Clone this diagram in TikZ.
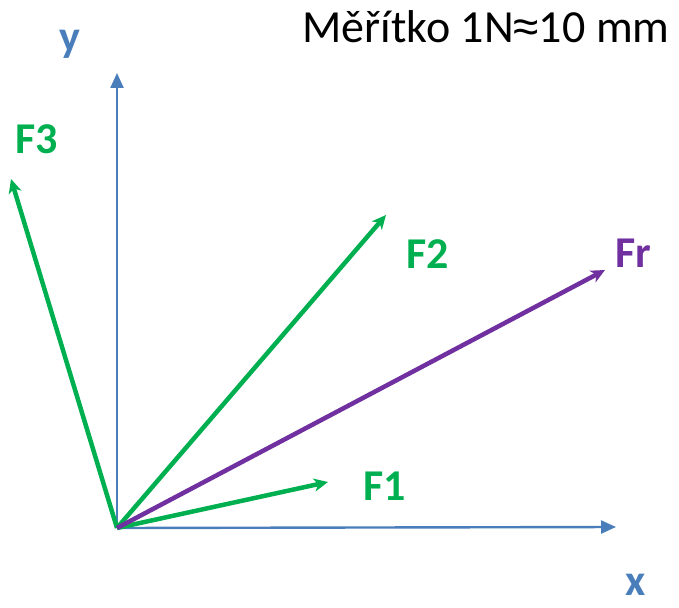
\documentclass[tikz,border=0pt]{standalone}
\usepackage{fontspec}
\setmainfont{Carlito}
\newfontfamily\symfont{Liberation Sans}
\usetikzlibrary{arrows.meta}
\definecolor{axisblue}{HTML}{4A7EBB}
\definecolor{fgreen}{HTML}{00B050}
\definecolor{fpurple}{HTML}{7030A0}
\tikzset{
  axis/.style={draw=axisblue, line width=2.4pt, -{Triangle[length=15pt,width=13pt]}},
  force/.style={line width=4.5pt, -{Stealth[length=14pt,width=13pt,inset=4pt]}},
  lbl/.style={font=\fontsize{44}{44}\selectfont\bfseries, inner sep=0pt},
}
\begin{document}
\begin{tikzpicture}[x=1pt,y=-1pt]
\useasboundingbox (0,0) rectangle (679,607);
\coordinate (O) at (117,528);
\coordinate (Xt) at (616,527);
\coordinate (Yt) at (117,73);
\coordinate (F1t) at (328,482);
\coordinate (F2t) at (386,215);
\coordinate (F3t) at (11,179);
\coordinate (Frt) at (605,270);
\draw[axis] (O) -- (Xt);
\draw[axis] (O) -- (Yt);
\draw[force, draw=fgreen, fill=fgreen] (O) -- (F3t);
\draw[force, draw=fgreen, fill=fgreen] (O) -- (F2t);
\draw[force, draw=fgreen, fill=fgreen] (O) -- (F1t);
\draw[force, draw=fpurple, fill=fpurple] (O) -- (Frt);
\node[lbl, text=axisblue] (ylab) at (70,44) {y};
\node[lbl, text=axisblue] (xlab) at (636,585) {x};
\node[lbl, text=fgreen] (f3lab) at (37,139) {F3};
\node[lbl, text=fgreen] (f2lab) at (428,254) {F2};
\node[lbl, text=fgreen] (f1lab) at (385,486) {F1};
\node[lbl, text=fpurple] (frlab) at (633,253) {Fr};
\node[inner sep=0pt, font=\fontsize{46}{46}\selectfont] (title) at (486,27) {Měřítko 1N{\symfont ≈}10 mm};
\end{tikzpicture}
\end{document}
